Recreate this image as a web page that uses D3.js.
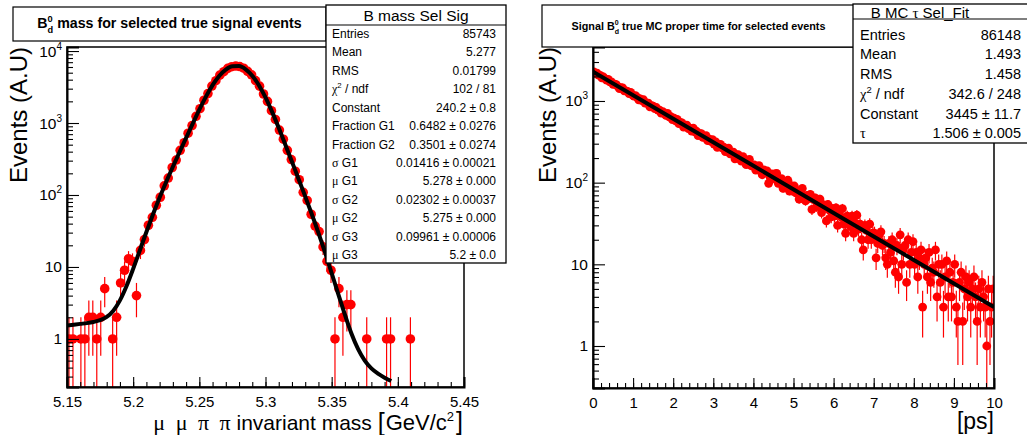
<!DOCTYPE html>
<html><head><meta charset="utf-8">
<script src="https://cdn.jsdelivr.net/npm/d3@7/dist/d3.min.js"></script>
<style>
body{margin:0;background:#fff}
svg{display:block}
text{font-family:"Liberation Sans",Arial,Helvetica,sans-serif;fill:#000}
</style>
</head><body>
<svg id="c" width="1027" height="435"></svg>
<script>
// ---------------- DATA ----------------
// Left: B mass histogram (100 bins, 5.15 - 5.45 GeV/c^2)
const massLow = 5.15;
const massBinWidth = 0.003;
const massCounts = [
  1,1,0,1,1,2,2,1,2,5,
  0,1,2,6,9,13,12,4,17,24,
  38,49,72,93,134,172,241,306,418,532,
  722,921,1240,1581,2070,2566,3262,3872,4621,5160,
  5742,6055,6190,6083,5771,5210,4662,3874,3251,2528,
  1995,1482,1120,798,596,417,311,214,163,109,
  84,54,37,31,19,12,9,1,5,2,
  3,3,0,0,0,1,0,0,0,0,
  1,1,0,0,0,0,1,0,0,0,
  0,0,0,0,0,0,0,0,0,0
];
// fit curve
const massFitX = [5.150,5.155,5.160,5.165,5.170,5.175,5.180,5.185,5.190,5.195,
  5.200,5.205,5.210,5.215,5.220,5.225,5.230,5.235,5.240,5.245,
  5.250,5.255,5.260,5.265,5.270,5.275,5.280,5.285,5.290,5.295,
  5.300,5.305,5.310,5.315,5.320,5.325,5.330,5.335,5.340,5.345,
  5.350,5.355,5.360,5.365,5.370,5.375,5.380,5.385,5.390,5.395];
const massFitY = [1.54,1.58,1.62,1.66,1.72,1.82,2.02,2.47,3.43,5.43,
  9.41,16.96,30.6,53.9,92.2,152.8,246.8,392,620,978,
  1530,2325,3355,4500,5527,6150,6172,5575,4540,3355,
  2268,1430,856,500,289,167,95.6,54,29.8,15.9,
  8.2,4.2,2.17,1.18,0.72,0.50,0.39,0.33,0.29,0.26];
const massTicks = [5.15,5.2,5.25,5.3,5.35,5.4,5.45];
const massTickLabels = ["5.15","5.2","5.25","5.3","5.35","5.4","5.45"];

// Right: proper time histogram (250 bins, 0 - 10 ps)
const timeLow = 0;
const timeBinWidth = 0.04;
const timeCounts = [
  2272,2161,2192,2076,2052,1920,1965,1879,1800,1841,1714,1715,1601,1607,1588,1504,1415,1461,1444,1330,1328,1307,1234,1272,1191,
  1145,1166,1109,1034,1064,1008,1035,940,943,942,846,877,865,806,832,774,771,710,741,702,665,706,638,644,592,
  618,572,596,529,545,538,478,499,506,460,463,428,466,419,426,377,399,399,359,361,376,327,342,320,336,
  297,316,270,291,295,267,273,240,254,265,225,230,236,196,219,221,195,183,208,189,166,185,193,161,164,
  165,142,152,162,138,125,143,132,139,98,115,128,112,128,130,98,107,112,85,100,91,107,79,92,79,
  91,75,80,63,80,85,68,60,70,64,72,47,62,65,51,56,63,43,49,53,34,54,46,38,48,
  39,49,30,42,38,48,31,24,39,35,29,39,24,32,40,27,31,20,15,30,26,20,31,20,24,
  24,12,18,23,25,17,18,12,10,18,14,20,11,8,17,7,23,10,15,17,6,20,10,14,19,
  10,14,7,12,15,3,10,12,7,14,6,9,8,15,4,10,6,10,3,7,11,4,8,4,6,
  10,3,2,6,8,2,5,7,4,6,3,5,7,4,2,5,3,6,4,3,1,5,2,3,5
];
const timeFitX = [0,2,4,6,8,10];
const timeFitY = [2288,606,161,42.6,11.3,2.99];
const timeTicks = [0,1,2,3,4,5,6,7,8,9,10];
const timeTickLabels = ["0","1","2","3","4","5","6","7","8","9","10"];

const logDecades = [1,10,100,1000,10000];
const logDecadeBase = ["1","10","10","10","10"];
const logDecadeExp = ["","","2","3","4"];

const leftStatsTitle = "B mass Sel Sig";
const leftStatsLabels = ["Entries","Mean","RMS","χ2/ndf","Constant","Fraction G1","Fraction G2","σ G1","μ G1","σ G2","μ G2","σ G3","μ G3"];
const leftStatsValues = ["85743","5.277","0.01799","102 / 81","240.2 ± 0.8","0.6482 ± 0.0276","0.3501 ± 0.0274","0.01416 ± 0.00021","5.278 ± 0.000","0.02302 ± 0.00037","5.275 ± 0.000","0.09961 ± 0.00006","5.2 ± 0.0"];
const rightStatsTitle = "B MC τ Sel_Fit";
const rightStatsLabels = ["Entries","Mean","RMS","χ2/ndf","Constant","τ"];
const rightStatsValues = ["86148","1.493","1.458","342.6 / 248","3445 ± 11.7","1.506 ± 0.005"];

// ---------------- DRAW ----------------
const svg = d3.select("#c");
const RED = "#ff0000";
const SERIF = "'Liberation Serif','DejaVu Serif',serif";

function panel(o){
  const x = d3.scaleLinear().domain(o.xDomain).range([o.left,o.right]);
  const y = d3.scaleLog().domain(o.yDomain).range([o.bottom,o.top]);
  const g = svg.append("g");
  const clipId = o.id + "clip";
  svg.append("clipPath").attr("id",clipId).append("rect")
    .attr("x",o.left).attr("y",o.top).attr("width",o.right-o.left).attr("height",o.bottom-o.top);
  const pts = o.counts.map((c,i)=>({v:o.low+o.bw*(i+0.5),c})).filter(d=>d.c>0);
  const gp = g.append("g").attr("clip-path",`url(#${clipId})`);
  gp.selectAll("line.err").data(pts).join("line").attr("class","err")
    .attr("x1",d=>x(d.v)).attr("x2",d=>x(d.v))
    .attr("y1",d=>{const lo=d.c-Math.sqrt(d.c); return lo>o.yDomain[0]?y(lo):o.bottom+10;})
    .attr("y2",d=>y(d.c+Math.sqrt(d.c)))
    .attr("stroke",RED).attr("stroke-width",1.2);
  gp.selectAll("circle").data(pts).join("circle")
    .attr("cx",d=>x(d.v)).attr("cy",d=>y(d.c)).attr("r",o.r).attr("fill",RED);
  const line = d3.line().x(d=>x(d[0])).y(d=>y(d[1])).curve(o.curve);
  gp.append("path").datum(o.fitX.map((v,i)=>[v,o.fitY[i]]))
    .attr("d",line).attr("fill","none").attr("stroke","#000").attr("stroke-width",4)
    .attr("stroke-linejoin","round");

  // frame
  g.append("rect").attr("x",o.left).attr("y",o.top).attr("width",o.right-o.left).attr("height",o.bottom-o.top)
    .attr("fill","none").attr("stroke","#000").attr("stroke-width",1.5);

  // x axis
  const xMinor = d3.range(Math.round((o.xDomain[1]-o.xDomain[0])/o.xMinorStep)+1).map(k=>o.xDomain[0]+k*o.xMinorStep);
  const axMinor = g.append("g").attr("transform",`translate(0,${o.bottom})`)
    .call(d3.axisBottom(x).tickValues(xMinor).tickSize(-5).tickFormat(""));
  axMinor.select(".domain").remove();
  const axMajor = g.append("g").attr("transform",`translate(0,${o.bottom})`)
    .call(d3.axisBottom(x).tickValues(o.xTicks).tickSize(-10).tickPadding(9).tickFormat((d,i)=>o.xTickLabels[i]));
  axMajor.select(".domain").attr("stroke-width",2);
  axMajor.selectAll("text").attr("font-size",15).attr("font-family","Liberation Sans, Arial, sans-serif").attr("fill","#000");
  g.selectAll(".tick line").attr("stroke","#000").attr("stroke-width",1.1);

  // y axis
  const yMinor = [];
  for (let e=-1;e<=4;e++) for (let k=2;k<=9;k++){const v=k*Math.pow(10,e); if(v>=o.yDomain[0]&&v<=o.yDomain[1]) yMinor.push(v);}
  const decs = logDecades.filter(v=>v>=o.yDomain[0]&&v<=o.yDomain[1]);
  const ayMinor = g.append("g").attr("transform",`translate(${o.left},0)`)
    .call(d3.axisLeft(y).tickValues(yMinor).tickSize(-6).tickFormat(""));
  ayMinor.select(".domain").remove();
  const ayMajor = g.append("g").attr("transform",`translate(${o.left},0)`)
    .call(d3.axisLeft(y).tickValues(decs).tickSize(-12).tickFormat(""));
  ayMajor.select(".domain").attr("stroke-width",2);
  g.selectAll(".tick line").attr("stroke","#000").attr("stroke-width",1.1);
  decs.forEach(v=>{
    const i = logDecades.indexOf(v);
    const t = g.append("text").attr("x",o.left-5).attr("y",y(v)+5.5).attr("text-anchor","end").attr("font-size",15.5);
    t.append("tspan").text(logDecadeBase[i]);
    if (logDecadeExp[i]) t.append("tspan").attr("font-size",10).attr("dy",-7).text(logDecadeExp[i]);
  });

  // y title
  g.append("text").attr("transform",`translate(${o.yTitleX},${o.top}) rotate(-90)`)
    .attr("text-anchor","end").attr("font-size",24).text("Events (A.U)");
  return {x,y};
}

panel({id:"L",left:67,right:464,top:47,bottom:387,xDomain:[5.15,5.45],yDomain:[0.215,11376],
  low:massLow,bw:massBinWidth,counts:massCounts,r:4.8,fitX:massFitX,fitY:massFitY,curve:d3.curveMonotoneX,
  xTicks:massTicks,xTickLabels:massTickLabels,xMinorStep:0.01,yTitleX:27});
panel({id:"R",left:593,right:994,top:47,bottom:388,xDomain:[0,10],yDomain:[0.306,4581],
  low:timeLow,bw:timeBinWidth,counts:timeCounts,r:4.4,fitX:timeFitX,fitY:timeFitY,curve:d3.curveLinear,
  xTicks:timeTicks,xTickLabels:timeTickLabels,xMinorStep:0.2,yTitleX:556});

// x titles
const xt = svg.append("text").attr("x",463).attr("y",430).attr("text-anchor","end").attr("font-size",21);
xt.append("tspan").attr("font-family",SERIF).attr("font-size",22).attr("word-spacing",5).text("μ μ π π");
xt.append("tspan").text(" invariant mass ");
xt.append("tspan").attr("font-size",25).attr("dy",1).text("[");
xt.append("tspan").attr("font-size",22).attr("dx",1).attr("dy",-1).text("GeV/c");
xt.append("tspan").attr("font-size",13).attr("dy",-9).text("2");
xt.append("tspan").attr("font-size",25).attr("dx",2).attr("dy",9).text("]");
svg.append("text").attr("x",994).attr("y",429).attr("text-anchor","end").attr("font-size",23).text("[ps]");

// titles
function titleBox(x0,y0,x1,y1,fs,pre,post){
  svg.append("rect").attr("x",x0).attr("y",y0).attr("width",x1-x0).attr("height",y1-y0)
    .attr("fill","#fff").attr("stroke","#000").attr("stroke-width",1.2);
  const t = svg.append("text").attr("x",(x0+x1)/2).attr("y",(y0+y1)/2+4).attr("text-anchor","middle")
    .attr("font-size",fs).attr("font-weight","bold");
  t.append("tspan").text(pre+"B");
  t.append("tspan").attr("font-size",fs*0.65).attr("dy",-fs*0.45).text("0");
  t.append("tspan").attr("font-size",fs*0.65).attr("dx",-fs*0.65*0.556).attr("dy",fs*0.8).text("d");
  t.append("tspan").attr("dy",-fs*0.35).text(post);
}
titleBox(13,7,326,41,14.2,""," mass for selected true signal events");
titleBox(542,5,855,47,10.8,"Signal "," true MC proper time for selected events");

// stats boxes
function statsBox(o){
  svg.append("rect").attr("x",o.x0).attr("y",o.y0).attr("width",o.x1-o.x0).attr("height",o.y1-o.y0)
    .attr("fill","#fff").attr("stroke","#000").attr("stroke-width",1.3);
  svg.append("line").attr("x1",o.x0).attr("x2",o.x1).attr("y1",o.sep).attr("y2",o.sep).attr("stroke","#000").attr("stroke-width",1.1);
  const ht = svg.append("text").attr("x",o.titleX).attr("y",o.titleY).attr("text-anchor","middle").attr("font-size",o.titleFs);
  o.title.split(/(τ)/).forEach(s=>{ if(!s) return; const sp=ht.append("tspan").text(s); if(s==="τ") sp.attr("font-family",SERIF); });
  o.labels.forEach((lab,k)=>{
    const yy = o.row0 + o.rowStep*k + o.fs*0.36;
    const t = svg.append("text").attr("x",o.x0+o.pad).attr("y",yy).attr("font-size",o.fs);
    if (lab==="χ2/ndf"){
      t.append("tspan").attr("font-family",SERIF).text("χ");
      t.append("tspan").attr("font-size",o.fs*0.65).attr("dy",-o.fs*0.4).text("2");
      t.append("tspan").attr("dy",o.fs*0.4).text(" / ndf");
    } else if (/^[σμτ]/.test(lab)){
      t.append("tspan").attr("font-family",SERIF).text(lab[0]);
      t.append("tspan").text(lab.slice(1));
    } else t.text(lab);
    svg.append("text").attr("x",o.valX).attr("y",yy).attr("text-anchor","end").attr("font-size",o.fs).text(o.values[k]);
  });
}
statsBox({x0:326,y0:5,x1:506,y1:263,sep:25,title:leftStatsTitle,titleX:416,titleY:21,titleFs:15.5,
  labels:leftStatsLabels,values:leftStatsValues,row0:33.5,rowStep:18.45,fs:12,pad:6,valX:496});
statsBox({x0:853,y0:4,x1:1032,y1:143,sep:19,title:rightStatsTitle,titleX:920,titleY:17.5,titleFs:15,
  labels:rightStatsLabels,values:rightStatsValues,row0:34.5,rowStep:19.7,fs:14.5,pad:7,valX:1021});
</script>
</body></html>
